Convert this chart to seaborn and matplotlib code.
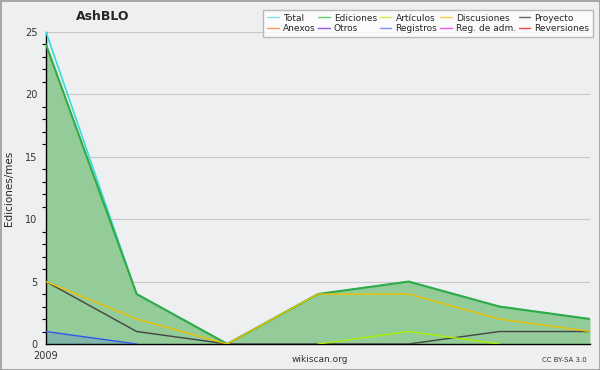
import numpy as np
import pandas as pd
import matplotlib
matplotlib.use('Agg')
import matplotlib.pyplot as plt
import seaborn as sns
from matplotlib.patches import Rectangle
from matplotlib.lines import Line2D

months = [0, 1, 2, 3, 4, 5, 6]
total = [25, 4, 0, 4, 5, 3, 2]
ediciones = [24, 4, 0, 4, 5, 3, 2]
articulos = [None, None, None, 0, 1, 0, None]
discusiones = [5, 2, 0, 4, 4, 2, 1]
proyecto = [5, 1, 0, None, 0, 1, 1]
registros = [1, 0, None, None, None, None, None]

legend_names = ['Total', 'Anexos', 'Ediciones', 'Otros', 'Artículos', 'Registros',
                'Discusiones', 'Reg. de adm.', 'Proyecto', 'Reversiones']
legend_colors = ['#7fe5e5', '#ff9955', '#66cc77', '#9955ee', '#ccee44', '#7f8cff',
                 '#ffcc44', '#ee55ee', '#666666', '#ff4444']

sns.set_style('white')
plt.rcParams['font.family'] = ['DejaVu Sans']

bg = '#eeeff1'
fig = plt.figure(figsize=(6, 3.7), dpi=100, facecolor=bg)
ax = fig.add_axes([46 / 600, 26 / 370, 544 / 600, 312 / 370])
ax.set_facecolor(bg)

df = pd.DataFrame({'mes': months, 'Total': total, 'Ediciones': ediciones,
                   'Artículos': articulos, 'Discusiones': discusiones,
                   'Proyecto': proyecto, 'Registros': registros}).astype(float)

ax.fill_between(df['mes'], 0, df['Ediciones'], color='#93cc98', lw=0, zorder=1)
reg = df.dropna(subset=['Registros'])
ax.fill_between(reg['mes'], 0, reg['Registros'], color='#6f9fb8', alpha=0.5, lw=0, zorder=1.5)

sns.lineplot(data=df, x='mes', y='Total', color='#33dddd', lw=1.2, ax=ax, zorder=3)
sns.lineplot(data=df, x='mes', y='Ediciones', color='#33aa44', lw=1.5, ax=ax, zorder=3)
sns.lineplot(data=df, x='mes', y='Proyecto', color='#444444', lw=1.0, ax=ax, zorder=4)
sns.lineplot(data=df, x='mes', y='Discusiones', color='#f0c000', lw=1.0, ax=ax, zorder=5)
sns.lineplot(data=df, x='mes', y='Artículos', color='#aaee00', lw=1.0, ax=ax, zorder=5)
sns.lineplot(data=df, x='mes', y='Registros', color='#3355ee', lw=1.0, ax=ax, zorder=5)

ax.set_xlim(0, 6)
ax.set_ylim(0, 25)
ax.set_yticks([0, 5, 10, 15, 20, 25])
ax.set_yticks(np.arange(0, 26, 1), minor=True)
ax.set_xticks(months)
ax.set_xticklabels(['2009', '', '', '', '', '', ''])
ax.grid(axis='y', color='#c8c8c8', lw=0.8, zorder=0)
ax.set_axisbelow(True)
for s in ['top', 'right']:
    ax.spines[s].set_visible(False)
for s in ['left', 'bottom']:
    ax.spines[s].set_color('black')
    ax.spines[s].set_linewidth(1.0)
ax.tick_params(axis='x', which='major', direction='out', length=5, width=1,
               colors='black', labelsize=7, labelcolor='#333333', pad=0)
ax.tick_params(axis='y', which='major', direction='out', length=5, width=1,
               colors='black', labelsize=7, labelcolor='#333333', pad=1)
ax.tick_params(axis='y', which='minor', direction='out', length=3, width=0.8,
               left=True, colors='black')
ax.set_xlabel('')
ax.set_ylabel('Ediciones/mes', fontsize=7.5, labelpad=8)

fig.text(103 / 600, 1 - 17 / 370, 'AshBLO', fontsize=9, fontweight='bold',
         ha='center', va='center')
fig.text(320 / 600, 1 - 360 / 370, 'wikiscan.org', fontsize=6.5, ha='center',
         va='center', color='#333333')
fig.text(587 / 600, 1 - 360 / 370, 'CC BY-SA 3.0', fontsize=5, ha='right',
         va='center', color='#333333')

fig.patches.append(Rectangle((0.5 / 600, 0.5 / 370), 599 / 600, 369 / 370,
                             transform=fig.transFigure, fill=False,
                             edgecolor='#999999', lw=1.2))

handles = [Line2D([], [], color=c, lw=1) for c in legend_colors]
leg = fig.legend(handles, legend_names, ncol=5, loc='upper right',
                 bbox_to_anchor=(593 / 600, 1 - 10 / 370), fontsize=6.5,
                 frameon=True, fancybox=False, handlelength=1.3,
                 handletextpad=0.45, columnspacing=0.3, labelspacing=0.2,
                 borderpad=0.4, borderaxespad=0)
leg.get_frame().set_edgecolor('#aaaaaa')
leg.get_frame().set_facecolor('white')
leg.get_frame().set_linewidth(1)

fig.savefig('out.png', dpi=100, facecolor=bg)
